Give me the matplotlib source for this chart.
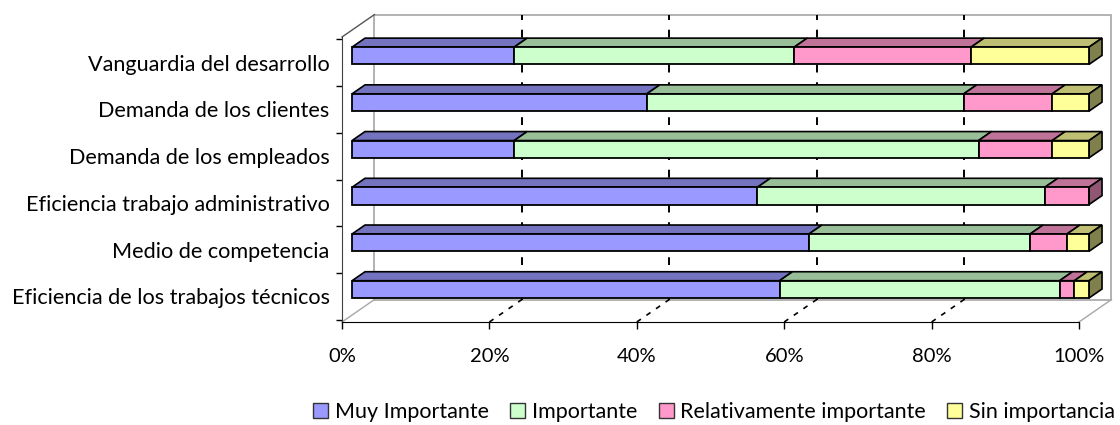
import numpy as np
import matplotlib.pyplot as plt
from matplotlib.patches import Polygon, Patch

# categorias de abajo hacia arriba
categorias = ["Eficiencia de los trabajos técnicos", "Medio de competencia",
              "Eficiencia trabajo administrativo", "Demanda de los empleados",
              "Demanda de los clientes", "Vanguardia del desarrollo"]
muy_importante = [58, 62, 55, 22, 40, 22]
importante = [38, 30, 39, 63, 43, 38]
relativamente = [2, 5, 6, 10, 12, 24]
sin_importancia = [2, 3, 0, 5, 5, 16]
series = ["Muy Importante", "Importante", "Relativamente importante", "Sin importancia"]
ticks_x = [0, 20, 40, 60, 80, 100]

col_frente = ["#9999FF", "#CCFFCC", "#FF99CC", "#FFFF99"]
col_arriba = ["#7373BF", "#99BF99", "#BF7399", "#BFBF73"]
col_lado = ["#565690", "#739073", "#905673", "#80804D"]

plt.rcParams['font.family'] = ['Lato', 'DejaVu Sans']

fig = plt.figure(figsize=(11.2, 4.25), dpi=100)
ax = fig.add_axes([342 / 1120, 103 / 425, 737 / 1120, 285 / 425])
y0, y1 = -0.55, 5.55
ax.set_xlim(0, 100)
ax.set_ylim(y0, y1)

DX, DY = 4.4, 0.48      # profundidad completa (oblicua)
d1, d2 = 0.31, 0.71     # cara frontal y trasera de las barras
alto = 0.37

datos = np.array([muy_importante, importante, relativamente, sin_importancia], float)
pct = datos / datos.sum(axis=0) * 100
izq = np.vstack([np.zeros(len(categorias)), np.cumsum(pct, axis=0)[:-1]])
pos = np.arange(len(categorias))

# paredes y piso
gris = "#A6A6A6"
ax.add_patch(Polygon([(DX, y0 + DY), (100 + DX, y0 + DY), (100 + DX, y1 + DY), (DX, y1 + DY)],
                     closed=True, fill=False, edgecolor=gris, lw=1.2, clip_on=False, zorder=0))
ax.plot([0, DX], [y1, y1 + DY], color="#555555", lw=1, clip_on=False, zorder=0)
ax.plot([0, DX], [y0, y0 + DY], color=gris, lw=1, clip_on=False, zorder=0)
ax.plot([100, 100 + DX], [y0, y0 + DY], color=gris, lw=1, clip_on=False, zorder=0)
for t in ticks_x[1:-1]:
    ax.plot([t + DX, t + DX], [y0 + DY, y1 + DY], color="black", lw=1.4,
            dashes=(4, 5), clip_on=False, zorder=0.5)
    ax.plot([t, t + DX], [y0, y0 + DY], color="black", lw=1.2,
            dashes=(3, 4), clip_on=False, zorder=0.5)

# barras
for j in range(len(series)):
    ax.barh(pos + d1 * DY, pct[j], left=izq[j] + d1 * DX, height=alto,
            color=col_frente[j], edgecolor="black", lw=1.3, zorder=3, clip_on=False)
    for i in pos:
        if pct[j, i] <= 0:
            continue
        l, r = izq[j, i], izq[j, i] + pct[j, i]
        top1 = i + d1 * DY + alto / 2
        top2 = i + d2 * DY + alto / 2
        ax.add_patch(Polygon([(l + d1 * DX, top1), (r + d1 * DX, top1),
                              (r + d2 * DX, top2), (l + d2 * DX, top2)],
                             closed=True, facecolor=col_arriba[j], edgecolor="black",
                             lw=1.2, zorder=2.5, clip_on=False))
        if r >= 99.99:
            bot1 = top1 - alto
            bot2 = top2 - alto
            ax.add_patch(Polygon([(r + d1 * DX, bot1), (r + d1 * DX, top1),
                                  (r + d2 * DX, top2), (r + d2 * DX, bot2)],
                                 closed=True, facecolor=col_lado[j], edgecolor="black",
                                 lw=1.2, zorder=2.5, clip_on=False))

# ejes
for s in ["top", "right"]:
    ax.spines[s].set_visible(False)
ax.spines["bottom"].set_color("black")
ax.spines["left"].set_color("#404040")
ax.set_xticks(ticks_x)
ax.set_xticklabels([f"{t}%" for t in ticks_x])
ax.tick_params(axis="x", length=5, width=1, pad=14, labelsize=14.5)
ax.set_yticks(pos)
ax.set_yticklabels(categorias)
ax.set_yticks(np.arange(-0.5, len(categorias)), minor=True)
ax.tick_params(axis="y", which="major", length=0, pad=9, labelsize=15.6)
ax.tick_params(axis="y", which="minor", length=4, width=1)

handles = [Patch(facecolor=c, edgecolor="#333333", lw=1) for c in col_frente]
fig.legend(handles, series, loc="center", bbox_to_anchor=(0.6375, 0.031), ncol=4,
           frameon=False, fontsize=15.5, handlelength=0.7, handleheight=0.7,
           handletextpad=0.3, columnspacing=1.0)

fig.savefig("out.png", dpi=100)
